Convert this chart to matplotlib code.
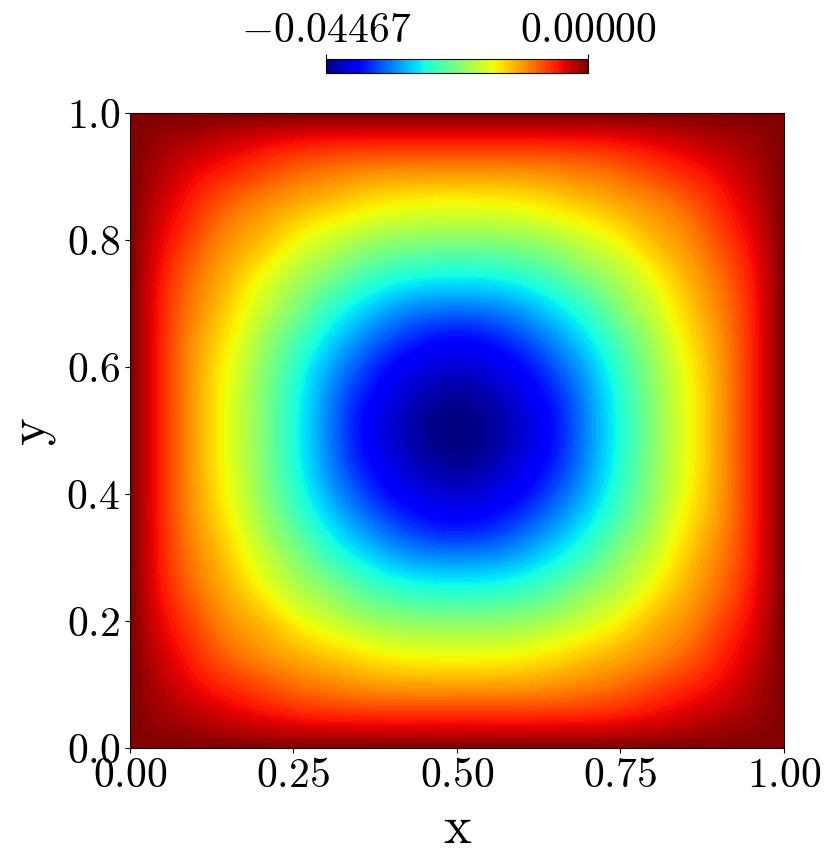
import numpy as np
import matplotlib
matplotlib.use('Agg')
import matplotlib.pyplot as plt
import matplotlib.tri as mtri

# --- settings: computer modern look ---
plt.rcParams['font.family'] = 'serif'
plt.rcParams['font.serif'] = ['cmr10', 'DejaVu Serif']
plt.rcParams['mathtext.fontset'] = 'cm'
plt.rcParams['axes.formatter.use_mathtext'] = True

# --- data ---
# field minimum (centre) and the colourbar ends
psi_min = -0.04467
psi_max = 0.0
cbar_ticks = [psi_min, psi_max]
cbar_ticklabels = [r'$-0.04467$', r'$0.00000$']

# lower-left quarter of the field, as fraction of psi_min,
# on x, y = 0, 0.05, ..., 0.5 (row = x index, column = y index)
quarter_x = np.linspace(0.0, 0.5, 11)
quarter = np.array([
    [0, 0,     0,      0,      0,      0,      0,     0,      0,      0,      0],
    [0, 0.03,  0.052,  0.075,  0.097,  0.116,  0.128, 0.133,  0.135,  0.135,  0.135],
    [0, 0.052, 0.10,   0.138,  0.173,  0.207,  0.23,  0.249,  0.2605, 0.2645, 0.265],
    [0, 0.075, 0.138,  0.20,   0.243,  0.279,  0.31,  0.339,  0.362,  0.3726, 0.375],
    [0, 0.097, 0.173,  0.243,  0.29,   0.35,   0.399, 0.4435, 0.4726, 0.487,  0.49],
    [0, 0.116, 0.207,  0.279,  0.35,   0.425,  0.483, 0.544,  0.587,  0.6096, 0.615],
    [0, 0.128, 0.23,   0.31,   0.399,  0.483,  0.572, 0.641,  0.698,  0.731,  0.74],
    [0, 0.133, 0.249,  0.339,  0.4435, 0.544,  0.641, 0.725,  0.794,  0.843,  0.86],
    [0, 0.135, 0.2605, 0.362,  0.4726, 0.587,  0.698, 0.794,  0.872,  0.9135, 0.93],
    [0, 0.135, 0.2645, 0.3726, 0.487,  0.6096, 0.731, 0.843,  0.9135, 0.959,  0.98],
    [0, 0.135, 0.265,  0.375,  0.49,   0.615,  0.74,  0.86,   0.93,   0.98,   1.0],
])

xticks = [0.0, 0.25, 0.5, 0.75, 1.0]
yticks = [0.0, 0.2, 0.4, 0.6, 0.8, 1.0]

# --- build the full square by symmetry ---
full = np.vstack([quarter, quarter[-2::-1]])
full = np.hstack([full, full[:, -2::-1]])
x = np.concatenate([quarter_x, 1.0 - quarter_x[-2::-1]])
X, Y = np.meshgrid(x, x)
Z = psi_min * full.T

tri = mtri.Triangulation(X.ravel(), Y.ravel())
refiner = mtri.UniformTriRefiner(tri)
tri_f, z_f = refiner.refine_field(Z.ravel(), subdiv=3)
z_f = np.clip(z_f, psi_min, psi_max)

# --- plot ---
fig = plt.figure(figsize=(8.31, 8.67), dpi=100)
ax = fig.add_axes([0.1564, 0.1373, 0.787, 0.7324])
levels = np.linspace(psi_min, psi_max, 101)
cf = ax.tricontourf(tri_f, z_f, levels=levels, cmap='jet')

ax.set_xlim(0, 1)
ax.set_ylim(0, 1)
ax.set_xticks(xticks)
ax.set_yticks(yticks)
ax.set_xticklabels([rf'${v:.2f}$' for v in xticks])
ax.set_yticklabels([rf'${v:.1f}$' for v in yticks])
ax.tick_params(labelsize=30)
ax.set_xlabel('x', fontsize=38, labelpad=8)
ax.set_ylabel('y', fontsize=38, labelpad=8)

cax = fig.add_axes([0.3923, 0.9161, 0.3153, 0.0155])
cb = fig.colorbar(cf, cax=cax, orientation='horizontal', ticks=cbar_ticks)
cb.ax.xaxis.set_ticks_position('top')
cb.ax.set_xticklabels(cbar_ticklabels)
cb.ax.tick_params(labelsize=30)

fig.savefig('out.png', dpi=100)
